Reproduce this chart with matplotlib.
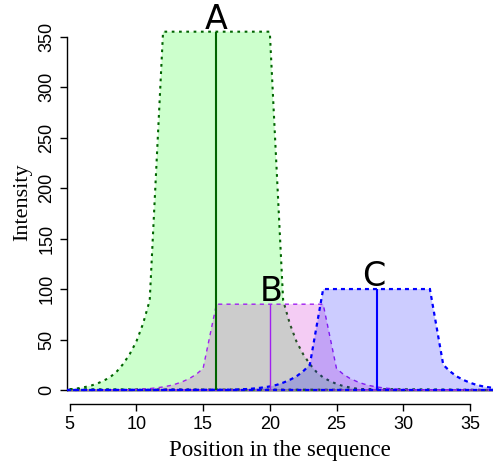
import matplotlib
matplotlib.use("Agg")
import matplotlib.pyplot as plt

# peak A (centre 16)
a_x = [5, 5.5, 6, 6.5, 7, 7.5, 8, 8.5, 9, 9.5, 10, 10.5, 11, 12,
       20, 21, 21.5, 22, 22.5, 23, 23.5, 24, 24.5, 25, 25.5, 26, 26.5, 27, 36.8]
a_y = [0.7, 1.4, 2.5, 3.9, 6, 8.9, 12.4, 17.8, 25.6, 35.5, 48, 65.7, 88.8, 355,
       355, 88.8, 65.7, 48, 35.5, 25.6, 17.8, 12.4, 8.9, 6, 3.9, 2.5, 1.4, 0.7, 0]

# peak B (centre 20)
b_x = [4.8, 9, 9.5, 10, 10.5, 11, 11.5, 12, 12.5, 13, 13.5, 14, 14.5, 15, 16,
       24, 25, 25.5, 26, 26.5, 27, 27.5, 28, 28.5, 29, 29.5, 30, 30.5, 31, 36.8]
b_y = [0, 0.2, 0.3, 0.6, 0.9, 1.4, 2.1, 3.0, 4.3, 6.1, 8.5, 11.5, 15.7, 21.3, 85,
       85, 21.3, 15.7, 11.5, 8.5, 6.1, 4.3, 3.0, 2.1, 1.4, 0.9, 0.6, 0.3, 0.2, 0]

# peak C (centre 28)
c_x = [4.8, 17, 17.5, 18, 18.5, 19, 19.5, 20, 20.5, 21, 21.5, 22, 22.5, 23, 24,
       32, 33, 33.5, 34, 34.5, 35, 35.5, 36, 36.5, 37, 37.5, 38]
c_y = [0, 0.2, 0.4, 0.7, 1.1, 1.7, 2.5, 3.5, 5, 7.2, 10, 13.5, 18.5, 25, 100,
       100, 25, 18.5, 13.5, 10, 7.2, 5, 3.5, 2.5, 1.7, 1.1, 0]

labels = ["A", "B", "C"]
centres = [16, 20, 28]
heights = [355, 85, 100]
label_x = [16, 20.1, 27.8]

fig = plt.figure(figsize=(4.93, 4.69), dpi=100)
ax = fig.add_axes([67 / 493, 65 / 469, 426 / 493, 404 / 469])

ax.axhline(0, color="#8a8a8a", lw=1.8, zorder=1)

ax.fill(a_x, a_y, facecolor=(0, 1, 0, 0.2), edgecolor="#006400",
        lw=1.5, linestyle=(0, (1.3, 2.2)), zorder=2)
ax.fill(b_x, b_y, facecolor=(0.8, 0, 0.8, 0.2), edgecolor="#A020F0",
        lw=1.0, linestyle=(0, (3, 3)), zorder=3)
ax.fill(c_x, c_y, facecolor=(0, 0, 1, 0.2), edgecolor="#0000FF",
        lw=1.6, linestyle=(0, (1.8, 1.8)), zorder=4)

ax.vlines(centres[0], 0, heights[0], color="#006400", lw=1.5, zorder=5)
ax.vlines(centres[1], 0, heights[1], color="#A020F0", lw=1.0, zorder=5)
ax.vlines(centres[2], 0, heights[2], color="#0000FF", lw=1.5, zorder=5)

for lab, lx, h in zip(labels, label_x, heights):
    ax.text(lx, h + 3, lab, ha="center", va="baseline", fontsize=24,
            family="DejaVu Sans", zorder=6)

ax.set_xlim(4.8, 36.73)
ax.set_ylim(-13.9, 386.4)

for s in ["top", "right"]:
    ax.spines[s].set_visible(False)
ax.spines["left"].set_bounds(0, 350)
ax.spines["bottom"].set_bounds(5, 35)
ax.spines["left"].set_linewidth(1)
ax.spines["bottom"].set_linewidth(1)

ax.set_xticks(range(5, 36, 5))
ax.set_yticks(range(0, 351, 50))
ax.tick_params(length=5, width=1, labelsize=13, pad=3.5)
for t in ax.get_xticklabels() + ax.get_yticklabels():
    t.set_family("Liberation Sans")
for t in ax.get_yticklabels():
    t.set_rotation(90)
    t.set_va("center")

ax.set_xlabel("Position in the sequence", family="Liberation Serif", fontsize=16.5, labelpad=5)
ax.set_ylabel("Intensity", family="Liberation Serif", fontsize=16, labelpad=4)

fig.savefig("out.png", dpi=100)
